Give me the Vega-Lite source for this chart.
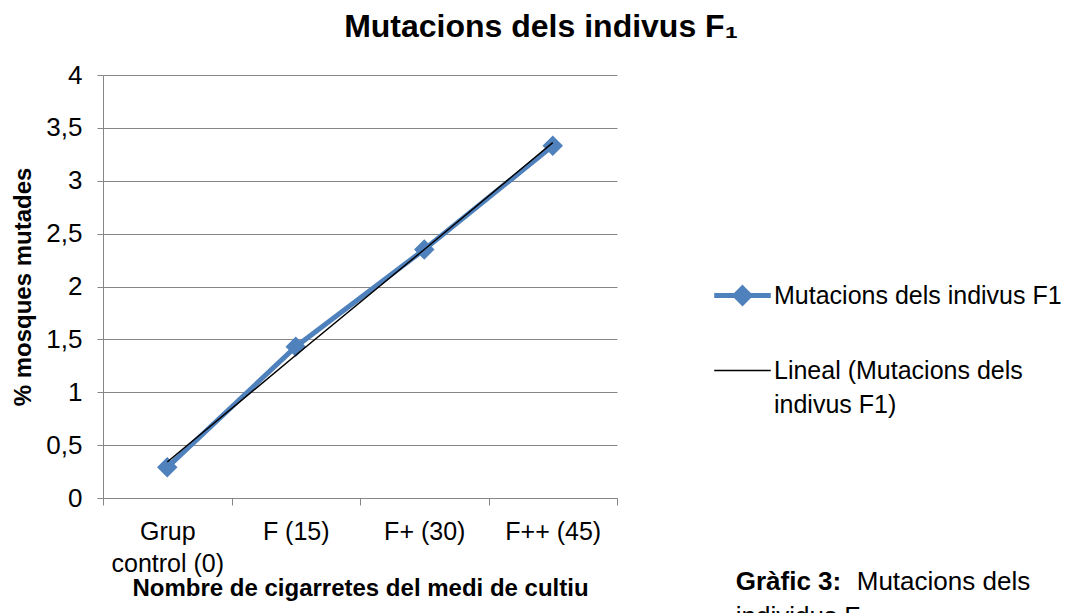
{
  "$schema": "https://vega.github.io/schema/vega-lite/v6.json",
  "width": 514,
  "height": 423,
  "autosize": {"type": "none"},
  "padding": {"left": 103, "top": 75, "right": 466, "bottom": 115},
  "background": "white",
  "config": {
    "font": "Liberation Sans",
    "view": {"stroke": null},
    "axis": {"labelFont": "Liberation Sans", "titleFont": "Liberation Sans", "labelColor": "black", "titleColor": "black"}
  },
  "title": {
    "text": "Mutacions dels indivus F₁",
    "fontSize": 32,
    "fontWeight": "bold",
    "font": "Liberation Sans",
    "anchor": "middle",
    "dx": 181,
    "baseline": "alphabetic",
    "offset": -7,
    "color": "black"
  },
  "datasets": {
    "obs": [
      {"grup": "Grup control (0)", "pct": 0.29, "serie": "Mutacions dels indivus F1"},
      {"grup": "F (15)", "pct": 1.43, "serie": "Mutacions dels indivus F1"},
      {"grup": "F+ (30)", "pct": 2.35, "serie": "Mutacions dels indivus F1"},
      {"grup": "F++ (45)", "pct": 3.33, "serie": "Mutacions dels indivus F1"}
    ],
    "trend": [
      {"grup": "Grup control (0)", "pct": 0.34, "serie": "Lineal (Mutacions dels indivus F1)"},
      {"grup": "F (15)", "pct": 1.35, "serie": "Lineal (Mutacions dels indivus F1)"},
      {"grup": "F+ (30)", "pct": 2.35, "serie": "Lineal (Mutacions dels indivus F1)"},
      {"grup": "F++ (45)", "pct": 3.36, "serie": "Lineal (Mutacions dels indivus F1)"}
    ]
  },
  "encoding": {
    "x": {
      "field": "grup",
      "type": "nominal",
      "sort": null,
      "scale": {"type": "band", "domain": ["Grup control (0)", "F (15)", "F+ (30)", "F++ (45)"], "paddingInner": 0, "paddingOuter": 0},
      "axis": {
        "title": "Nombre de cigarretes del medi de cultiu",
        "titleFontSize": 24,
        "titleFontWeight": "bold",
        "titlePadding": 0,
        "labelFontSize": 25,
        "labelAngle": 0,
        "labelPadding": 14,
        "labelLineHeight": 32,
        "labelExpr": "datum.value == 'Grup control (0)' ? ['Grup', 'control (0)'] : datum.value",
        "tickBand": "extent",
        "tickSize": 7,
        "tickColor": "#868686",
        "domainColor": "#868686",
        "grid": false
      }
    },
    "y": {
      "field": "pct",
      "type": "quantitative",
      "scale": {"domain": [0, 4], "nice": false, "zero": true},
      "axis": {
        "title": "% mosques mutades",
        "titleFontSize": 24,
        "titleFontWeight": "bold",
        "titlePadding": 10,
        "labelFontSize": 26,
        "labelPadding": 15,
        "values": [0, 0.5, 1, 1.5, 2, 2.5, 3, 3.5, 4],
        "labelExpr": "replace(format(datum.value, '.1~f'), '.', ',')",
        "tickSize": 6,
        "tickColor": "#868686",
        "domainColor": "#868686",
        "gridColor": "#868686",
        "grid": true
      }
    }
  },
  "layer": [
    {
      "data": {"name": "obs"},
      "mark": {"type": "line", "strokeWidth": 5},
      "encoding": {
        "color": {
          "field": "serie",
          "type": "nominal",
          "scale": {"domain": ["Mutacions dels indivus F1", "Lineal (Mutacions dels indivus F1)"], "range": ["#4F81BD", "#000000"]},
          "legend": {
            "title": null,
            "orient": "none",
            "legendX": 627,
            "legendY": 208,
            "labelFontSize": 25,
            "labelFont": "Liberation Sans",
            "labelColor": "black",
            "labelLimit": 400,
            "labelOffset": 19,
            "rowPadding": 45,
            "symbolSize": 3200,
            "labelExpr": "datum.label == 'Lineal (Mutacions dels indivus F1)' ? ['Lineal (Mutacions dels', 'indivus F1)'] : datum.label",
            "encode": {
              "labels": {"update": {"lineHeight": {"value": 34}}},
              "symbols": {
                "update": {
                  "shape": {"signal": "datum.value === 'Mutacions dels indivus F1' ? 'M-1,0H1M0,-0.26L0.26,0L0,0.26L-0.26,0Z' : 'M-1,0H1'"},
                  "strokeWidth": {"signal": "datum.value === 'Mutacions dels indivus F1' ? 5 : 1.5"},
                  "fill": {"signal": "datum.value === 'Mutacions dels indivus F1' ? '#4F81BD' : 'transparent'"},
                  "stroke": {"signal": "datum.value === 'Mutacions dels indivus F1' ? '#4F81BD' : '#000000'"}
                }
              }
            }
          }
        }
      }
    },
    {
      "data": {"name": "obs"},
      "mark": {"type": "point", "shape": "diamond", "filled": true, "size": 420, "color": "#4F81BD", "opacity": 1}
    },
    {
      "data": {"name": "trend"},
      "mark": {"type": "line", "strokeWidth": 1.5},
      "encoding": {
        "color": {"field": "serie", "type": "nominal"}
      }
    },
    {
      "data": {"name": "obs"},
      "transform": [{"filter": "datum.grup === 'F++ (45)'"}],
      "mark": {"type": "text", "align": "left", "baseline": "middle", "fontSize": 26, "fontWeight": "bold", "dx": 183, "fill": "black"},
      "encoding": {
        "y": {"datum": -0.79},
        "text": {"value": "Gràfic 3:"}
      }
    },
    {
      "data": {"name": "obs"},
      "transform": [{"filter": "datum.grup === 'F++ (45)'"}],
      "mark": {"type": "text", "align": "left", "baseline": "middle", "fontSize": 26, "dx": 304, "fill": "black"},
      "encoding": {
        "y": {"datum": -0.79},
        "text": {"value": "Mutacions dels"}
      }
    },
    {
      "data": {"name": "obs"},
      "transform": [{"filter": "datum.grup === 'F++ (45)'"}],
      "mark": {"type": "text", "align": "left", "baseline": "middle", "fontSize": 26, "dx": 183, "dy": 35, "fill": "black"},
      "encoding": {
        "y": {"datum": -0.79},
        "text": {"value": "individus F₁"}
      }
    }
  ]
}
